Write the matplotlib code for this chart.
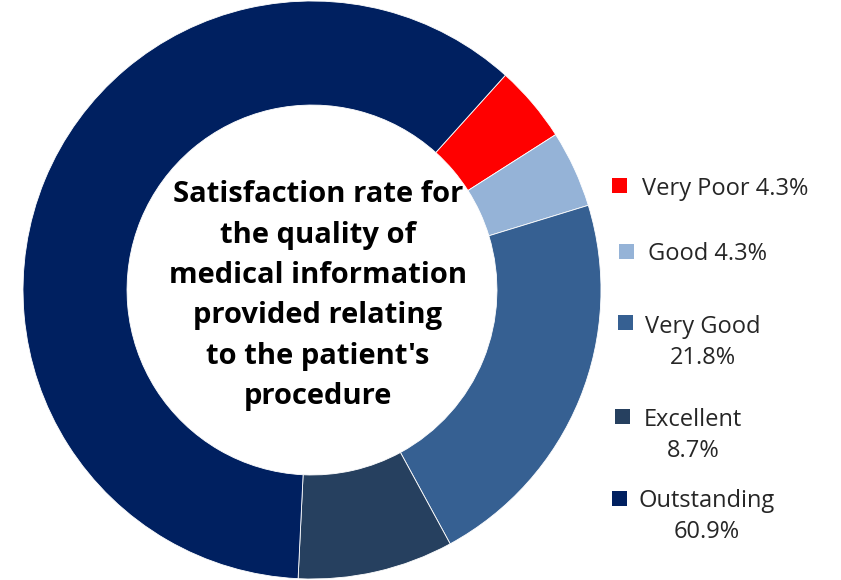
import matplotlib.pyplot as plt
from matplotlib.patches import Rectangle

categories = ['Very Poor', 'Good', 'Very Good', 'Excellent', 'Outstanding']
values = [4.3, 4.3, 21.8, 8.7, 60.9]
colors = ['#FF0000', '#95B3D7', '#366092', '#26405F', '#002060']
label_sep = [' ', ' ', '\n', '\n', '\n']
title = ("Satisfaction rate for\nthe quality of\nmedical information\n"
         "provided relating\nto the patient's\nprocedure")

W, H = 841, 580
fig = plt.figure(figsize=(W / 100, H / 100), dpi=100)

def fx(x):
    return x / W

def fy(y):
    return 1 - y / H

# donut geometry in pixels
cx, cy, r = 312, 290, 289
ax = fig.add_axes([fx(cx - r), fy(cy + r), 2 * r / W, 2 * r / H])
ax.pie(values, colors=colors, startangle=48, counterclock=False, radius=1,
       wedgeprops=dict(width=0.36, edgecolor='white', linewidth=0.6))
ax.set_xlim(-1, 1)
ax.set_ylim(-1, 1)
ax.set_aspect('auto')
ax.axis('off')

ax.text(0.02, -0.02, title, ha='center', va='center', fontsize=21,
        fontweight='bold', family='Open Sans', linespacing=1.52,
        color='black')

# legend, placed by hand like the original
sq_xy = [(612, 178), (619, 244), (618, 315), (615, 409), (612, 491)]
base_y = [195, 260, 332, 425, 506]
txt_cx = [725, 707, 703, 693, 707]
line_gap = 32
for i, (c, v) in enumerate(zip(categories, values)):
    x0, y0 = sq_xy[i]
    fig.patches.append(Rectangle((fx(x0), fy(y0 + 14.5)), 14.5 / W, 14.5 / H,
                                 transform=fig.transFigure,
                                 facecolor=colors[i], edgecolor='none'))
    lab = f"{c}{label_sep[i]}{v}%"
    last_base = base_y[i] + line_gap * lab.count('\n')
    fig.text(fx(txt_cx[i]), fy(last_base), lab, ha='center', va='baseline',
             multialignment='center', fontsize=17, family='Open Sans',
             color='#262626', linespacing=1.4)

fig.savefig('out.png', dpi=100, facecolor='white')
